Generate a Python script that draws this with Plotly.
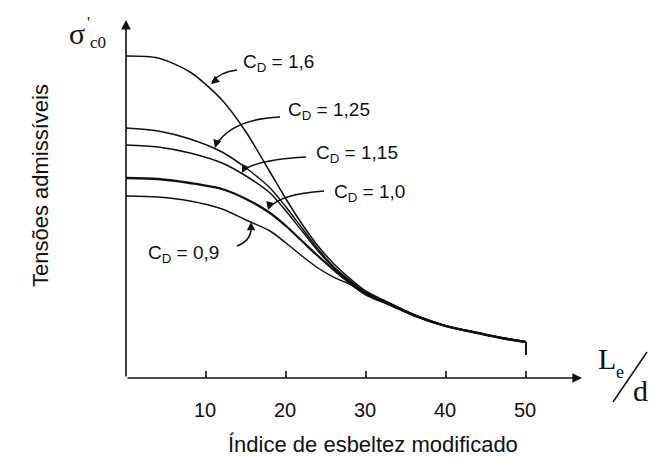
import plotly.graph_objects as go

# ---------------- data ----------------
le_d = [0, 4, 8, 12, 15, 18, 20, 22, 24, 26, 28, 30, 33, 36, 40, 44, 47, 50]
sigma_cd_1_6 = [1.61, 1.60, 1.53, 1.39, 1.23, 1.03, 0.895, 0.77, 0.66, 0.57, 0.497, 0.434, 0.374, 0.318, 0.262, 0.227, 0.202, 0.182]
sigma_cd_1_25 = [1.25, 1.235, 1.195, 1.13, 1.05, 0.95, 0.855, 0.75, 0.645, 0.555, 0.487, 0.428, 0.372, 0.317, 0.261, 0.226, 0.201, 0.181]
sigma_cd_1_15 = [1.165, 1.155, 1.125, 1.075, 1.01, 0.925, 0.835, 0.735, 0.635, 0.55, 0.482, 0.425, 0.37, 0.315, 0.26, 0.225, 0.20, 0.18]
sigma_cd_1_0 = [1.0, 0.995, 0.975, 0.945, 0.895, 0.825, 0.76, 0.685, 0.61, 0.54, 0.475, 0.42, 0.367, 0.313, 0.259, 0.224, 0.199, 0.179]
sigma_cd_0_9 = [0.91, 0.905, 0.885, 0.845, 0.79, 0.735, 0.675, 0.61, 0.55, 0.503, 0.468, 0.415, 0.364, 0.311, 0.258, 0.223, 0.198, 0.178]
end_x = [50, 50]
end_y = [0.18, 0.115]

tick_vals = [10, 20, 30, 40, 50]
tick_labels = ["10", "20", "30", "40", "50"]
curve_labels = ["C<sub>D</sub> = 1,6", "C<sub>D</sub> = 1,25", "C<sub>D</sub> = 1,15",
                "C<sub>D</sub> = 1,0", "C<sub>D</sub> = 0,9"]

# ---------------- geometry helpers ----------------
W, H = 649, 459
ML, MR, MT, MB = 110, 43, 18, 71
XR = [-2, 60]
YR = [-0.05, 1.8]


def X(px):
    return XR[0] + (px - ML) / (W - ML - MR) * (XR[1] - XR[0])


def Y(py):
    return YR[0] + (H - MB - py) / (H - MT - MB) * (YR[1] - YR[0])


def PX(px):
    return (px - ML) / (W - ML - MR)


def PY(py):
    return (H - MB - py) / (H - MT - MB)


def XP(xv):
    return ML + (xv - XR[0]) / (XR[1] - XR[0]) * (W - ML - MR)


INK = "#111111"
SANS = "Liberation Sans, Arial, sans-serif"
SERIF = "Liberation Serif, Times New Roman, serif"

fig = go.Figure()

series = [(sigma_cd_1_6, 1.5), (sigma_cd_1_25, 1.5), (sigma_cd_1_15, 1.5),
          (sigma_cd_1_0, 2.3), (sigma_cd_0_9, 1.5)]
for ys, w in series:
    fig.add_trace(go.Scatter(x=le_d, y=ys, mode="lines",
                             line=dict(color=INK, width=w, shape="spline", smoothing=0.8),
                             hoverinfo="skip", showlegend=False))
fig.add_trace(go.Scatter(x=end_x, y=end_y, mode="lines", line=dict(color=INK, width=2),
                         hoverinfo="skip", showlegend=False))

shapes = []
annotations = []

# axes with arrows
annotations.append(dict(x=0, y=Y(20), ax=0, ay=0, axref="x", ayref="y", xref="x", yref="y",
                        showarrow=True, arrowhead=2, arrowsize=1.2, arrowwidth=1.6,
                        arrowcolor=INK, text=""))
annotations.append(dict(x=X(582), y=0, ax=0, ay=0, axref="x", ayref="y", xref="x", yref="y",
                        showarrow=True, arrowhead=2, arrowsize=1.2, arrowwidth=1.6,
                        arrowcolor=INK, text=""))
for tv, tl in zip(tick_vals, tick_labels):
    shapes.append(dict(type="line", xref="x", yref="y", x0=tv, x1=tv, y0=0, y1=Y(371),
                       line=dict(color=INK, width=1.6)))
    annotations.append(dict(x=PX(XP(tv) - 1), y=PY(410), xref="paper", yref="paper", text=tl,
                            showarrow=False, font=dict(family=SANS, size=20, color=INK),
                            xanchor="center", yanchor="middle"))

# leaders: (text left px, text center py, path points px, tip px, arrow tail offset)
leaders = [
    (241, 63, [(237, 70), (220, 72), (212, 82)], (211, 84), (5, -4)),
    (286, 111, [(280, 117), (232, 119), (216, 145)], (215, 148), (2, -7)),
    (314, 154, [(306, 157), (255, 160), (243, 171)], (242, 173), (3, -6)),
    (332, 193, [(324, 191), (280, 194), (269, 208)], (268, 210), (2, -7)),
    (146, 254, [(237, 246), (253, 240), (251, 224)], (251, 222), (0, 7)),
]
for lab, (tx, ty, pts, tip, off) in zip(curve_labels, leaders):
    (x0, y0), (xc, yc), (x1, y1) = pts
    path = f"M {X(x0)},{Y(y0)} Q {X(xc)},{Y(yc)} {X(x1)},{Y(y1)}"
    shapes.append(dict(type="path", xref="x", yref="y", path=path,
                       line=dict(color=INK, width=1.5)))
    annotations.append(dict(x=X(tip[0]), y=Y(tip[1]), xref="x", yref="y", ax=off[0], ay=off[1],
                            showarrow=True, arrowhead=2, arrowsize=1.1, arrowwidth=1.5,
                            arrowcolor=INK, text=""))
    annotations.append(dict(x=PX(tx), y=PY(ty), xref="paper", yref="paper", text=lab,
                            showarrow=False, font=dict(family=SANS, size=19, color=INK),
                            xanchor="left", yanchor="middle"))

# axis titles
annotations.append(dict(x=PX(373), y=PY(444), xref="paper", yref="paper",
                        text="Índice de esbeltez modificado", showarrow=False,
                        font=dict(family=SANS, size=22, color=INK),
                        xanchor="center", yanchor="middle"))
annotations.append(dict(x=PX(40), y=PY(186), xref="paper", yref="paper",
                        text="Tensões admissíveis", showarrow=False, textangle=-90,
                        font=dict(family=SANS, size=22, color=INK),
                        xanchor="center", yanchor="middle"))

# sigma'_c0 symbol
annotations.append(dict(x=PX(77), y=PY(33), xref="paper", yref="paper", text="σ",
                        showarrow=False, font=dict(family=SERIF, size=30, color=INK),
                        xanchor="center", yanchor="middle"))
annotations.append(dict(x=PX(98), y=PY(43), xref="paper", yref="paper", text="c0",
                        showarrow=False, font=dict(family=SERIF, size=17, color=INK),
                        xanchor="center", yanchor="middle"))
annotations.append(dict(x=PX(88), y=PY(22), xref="paper", yref="paper", text="'",
                        showarrow=False, font=dict(family=SERIF, size=16, color=INK),
                        xanchor="center", yanchor="middle"))

# L_e / d
annotations.append(dict(x=PX(596), y=PY(358), xref="paper", yref="paper", text="L",
                        showarrow=False, font=dict(family=SERIF, size=30, color=INK),
                        xanchor="left", yanchor="middle"))
annotations.append(dict(x=PX(620), y=PY(372), xref="paper", yref="paper", text="e",
                        showarrow=False, font=dict(family=SERIF, size=18, color=INK),
                        xanchor="center", yanchor="middle"))
annotations.append(dict(x=PX(640), y=PY(390), xref="paper", yref="paper", text="d",
                        showarrow=False, font=dict(family=SERIF, size=30, color=INK),
                        xanchor="center", yanchor="middle", borderpad=0))
shapes.append(dict(type="line", xref="paper", yref="paper", x0=PX(613), y0=PY(402),
                   x1=PX(647), y1=PY(352), line=dict(color=INK, width=1.5)))

fig.update_layout(
    width=W, height=H,
    margin=dict(l=ML, r=MR, t=MT, b=MB),
    paper_bgcolor="white", plot_bgcolor="white",
    xaxis=dict(range=XR, visible=False, fixedrange=True),
    yaxis=dict(range=YR, visible=False, fixedrange=True),
    shapes=shapes, annotations=annotations, showlegend=False,
)

fig.write_html("out.html", config={"displayModeBar": False},
               post_script="document.body.style.margin='0px';document.body.style.overflow='hidden';")
